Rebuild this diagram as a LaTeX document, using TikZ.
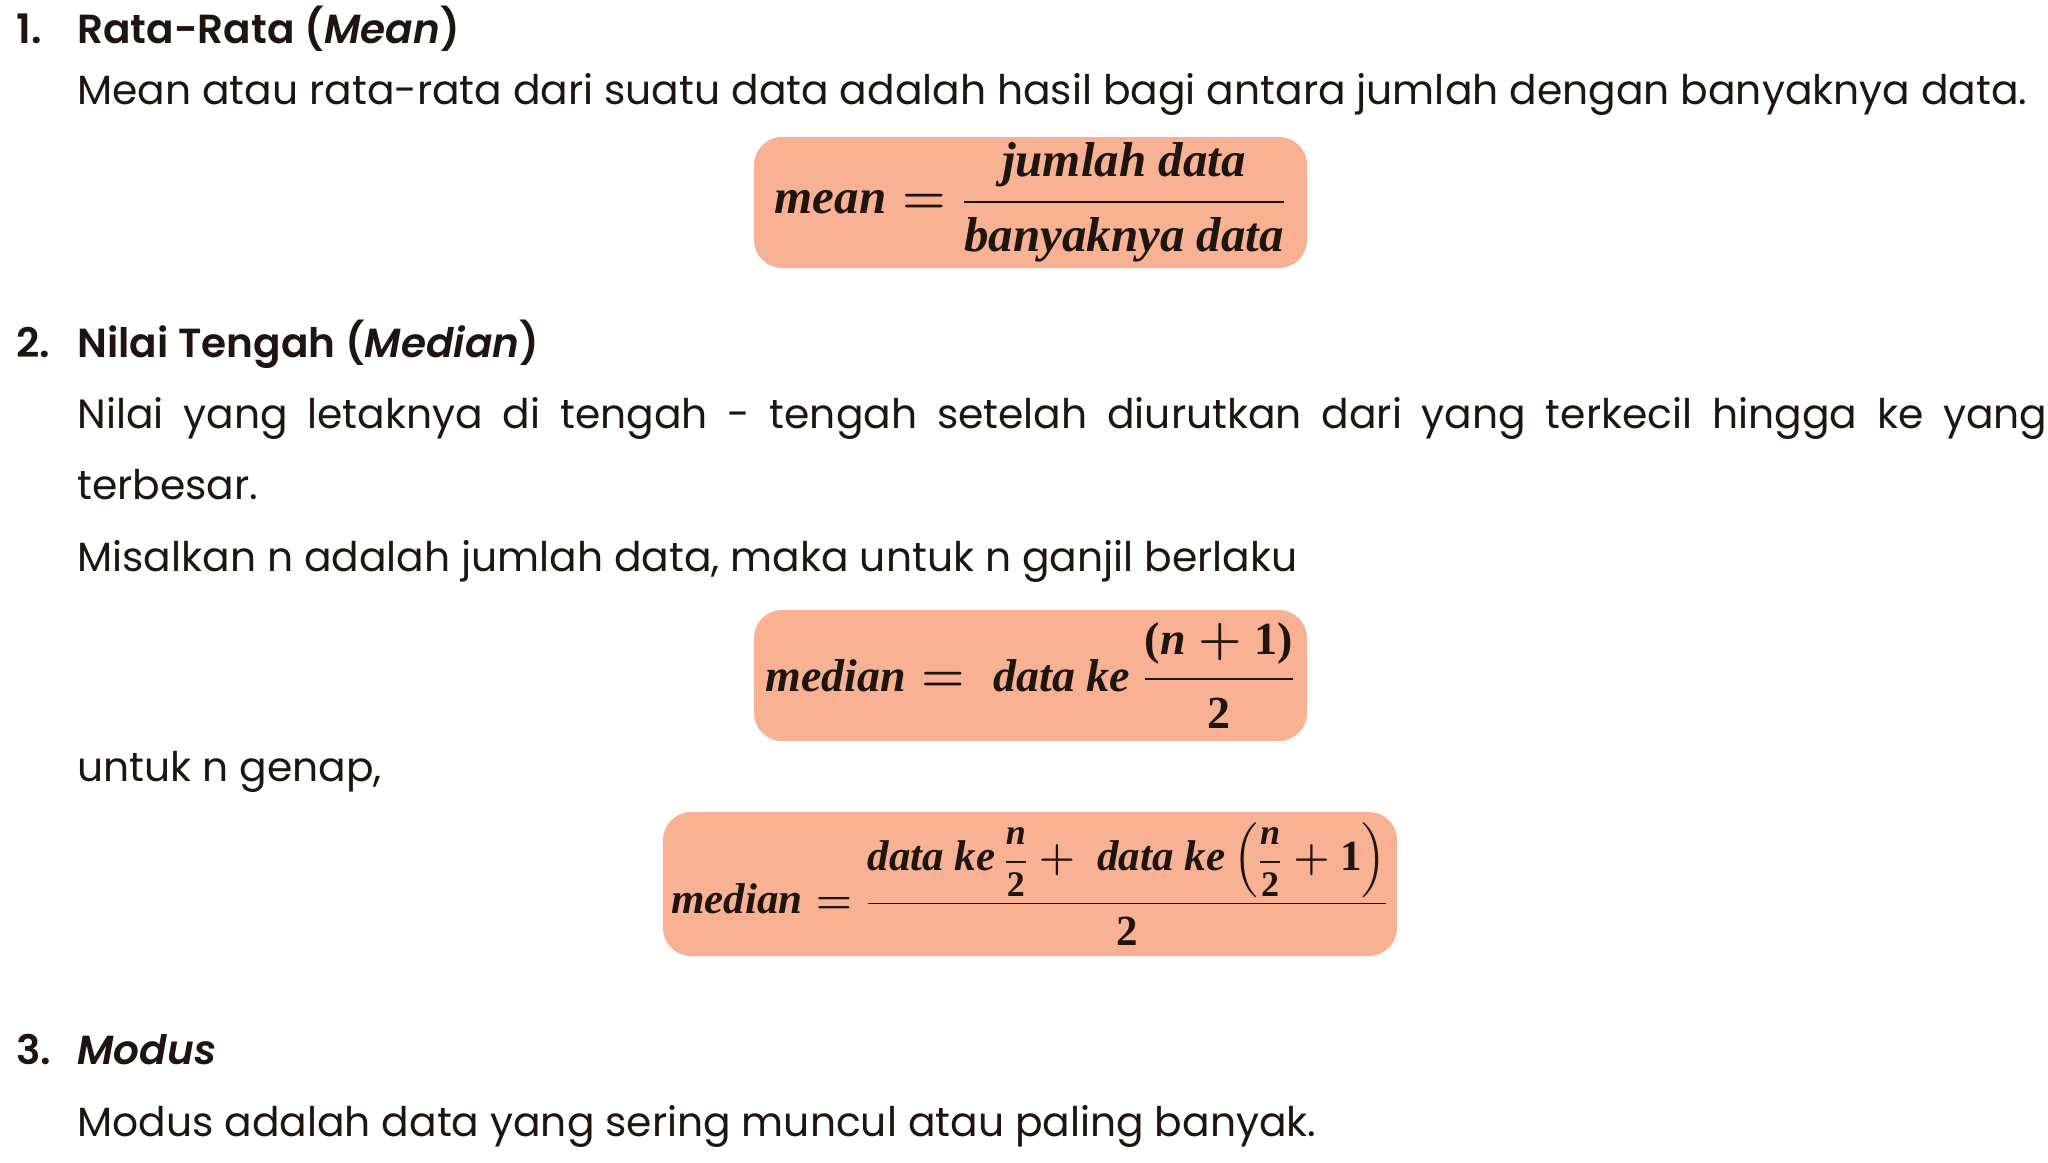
\documentclass[tikz,border=0pt]{standalone}
\usepackage{amsmath}
\usepackage{fontspec}
\setmainfont{Poppins}[BoldFont={* SemiBold}, BoldItalicFont={* SemiBold Italic}]
\newfontfamily\formfont{Liberation Serif}
\usepackage{tikz}
\usetikzlibrary{positioning}
\definecolor{ink}{HTML}{1E1410}
\definecolor{salmon}{HTML}{F8B293}
% formula pieces: bold italic words, bold upright digits
\newcommand{\fv}[1]{\text{\formfont\bfseries\itshape #1}}
\newcommand{\fd}[1]{\text{\formfont\bfseries #1}}
\newcommand{\halfn}{\mbox{\fontsize{18}{18}\selectfont$\dfrac{\fv{n}}{\fd{2}}$}}
\tikzset{
  heading/.style={anchor=base west, inner sep=0pt, font=\fontsize{20.3}{24}\selectfont\bfseries, text=ink},
  bodytext/.style={anchor=base west, inner sep=0pt, font=\fontsize{20.4}{24}\selectfont, text=ink},
  formbox/.style={rounded corners=14pt, fill=salmon, minimum width=276.5pt, minimum height=65.5pt, inner sep=0pt, text=ink, font=\fontsize{#1}{#1}\selectfont\boldmath},
  formbox/.default=24
}
\begin{document}
\begin{tikzpicture}[x=0.5pt, y=-0.5pt]
            \useasboundingbox (0, 0) rectangle (2048, 1162);
            % section 1
            \node[heading] at (16, 43)   (n1) {1.};
            \node[heading] at (77, 43)   (t1) {Rata-Rata (\textit{Mean})};
            \node[bodytext] at (77, 104)  (b1) {Mean atau rata-rata dari suatu data adalah hasil bagi antara jumlah dengan banyaknya data.};
            \node[formbox=24.5] at (1030.5, 202.5) (f1) {$\fv{mean} = \dfrac{\fv{jumlah data}}{\fv{banyaknya data}}$};

            % section 2
            \node[heading] at (16, 357)  (n2) {2.};
            \node[heading] at (77, 357)  (t2) {Nilai Tengah (\textit{Median})};
            \node[bodytext] at (77, 428)  (b2) {\makebox[985pt][s]{Nilai yang letaknya di tengah - tengah setelah diurutkan dari yang terkecil hingga ke yang}};
            \node[bodytext] at (77, 499)  (b3) {terbesar.};
            \node[bodytext] at (77, 571)  (b4) {Misalkan n adalah jumlah data, maka untuk n ganjil berlaku};
            \node[formbox=23] at (1030.5, 675.5) (f2) {$\fv{median} = \ \fv{data ke}\ \dfrac{\fd{(}\fv{n}+\fd{1)}}{\fd{2}}$};
            \node[bodytext] at (77, 781)  (b5) {untuk n genap,};
            \node[formbox=21.5, minimum width=367pt, minimum height=72pt] at (1030, 884) (f3)
                {$\fv{median} = \dfrac{\fv{data ke}\,\halfn + \ \fv{data ke}\left(\halfn+\fd{1}\right)}{\fd{2}}$};

            % section 3
            \node[heading] at (16, 1064) (n3) {3.};
            \node[heading] at (77, 1064) (t3) {\textit{Modus}};
            \node[bodytext] at (77, 1136) (b6) {Modus adalah data yang sering muncul atau paling banyak.};
\end{tikzpicture}
\end{document}
